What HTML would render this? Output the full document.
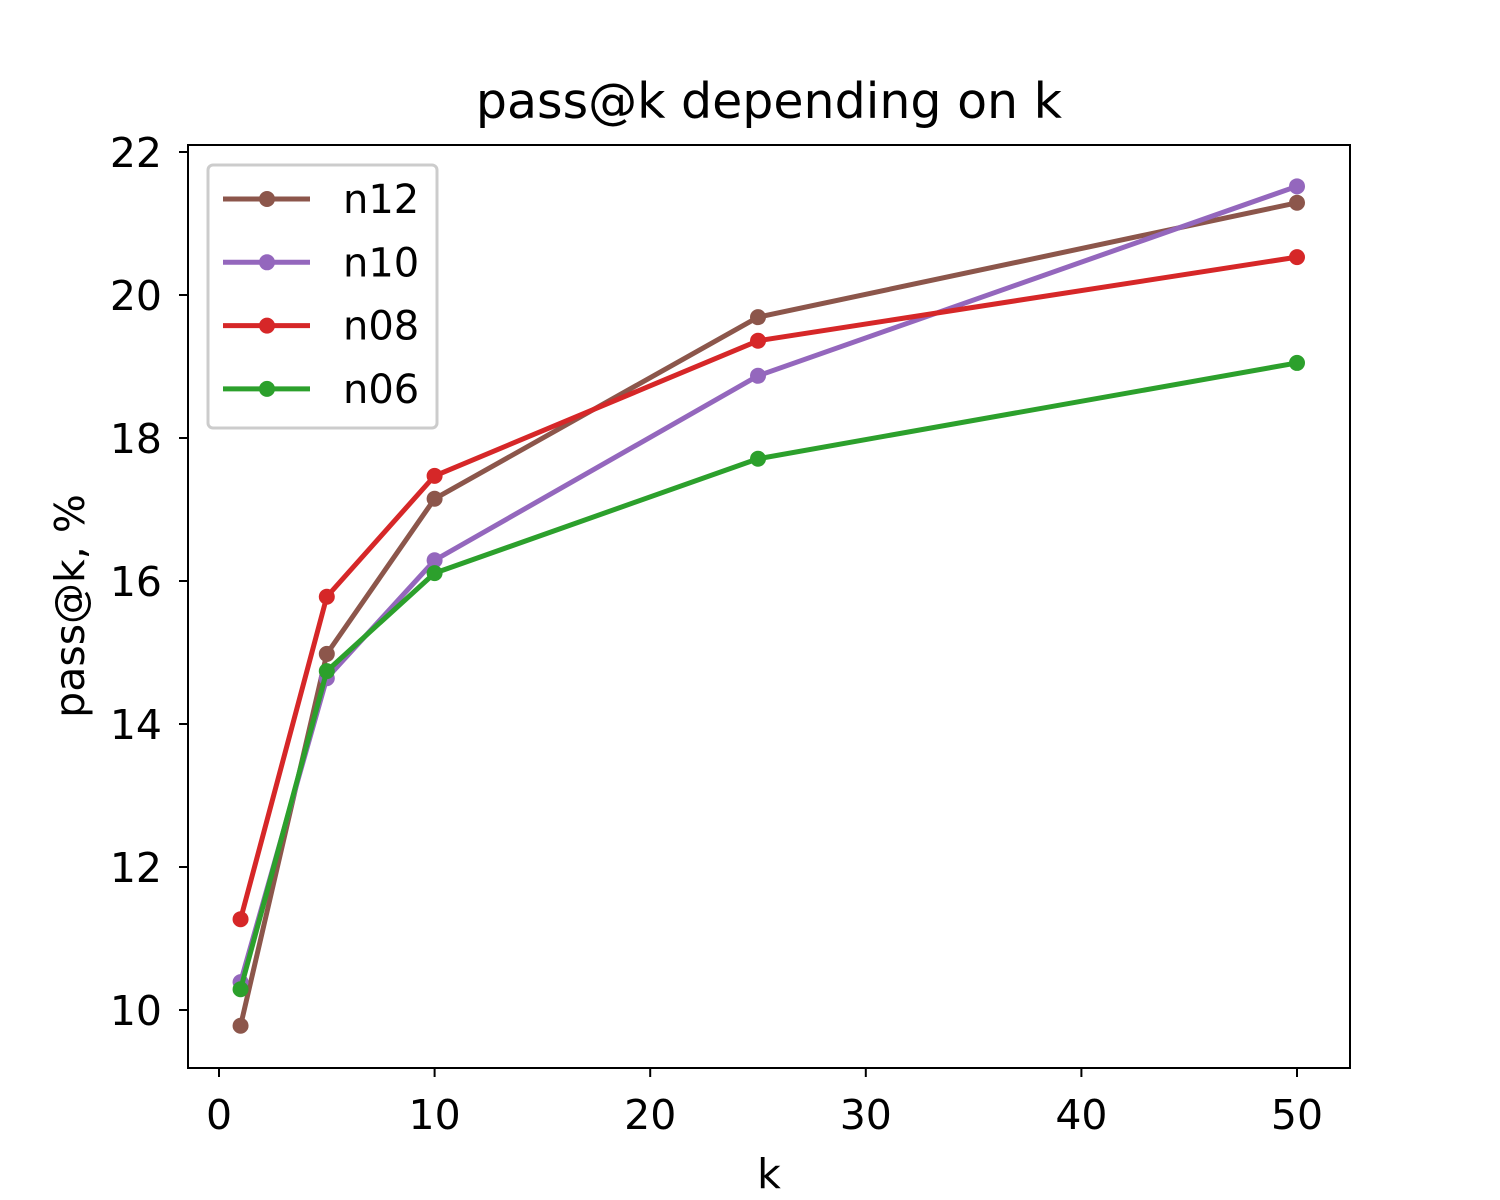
<!DOCTYPE html>
<html><head><meta charset="utf-8"><style>
body{margin:0;background:#fff;}
svg{display:block;font-family:"DejaVu Sans","Liberation Sans",sans-serif;}
</style></head><body>
<svg id="chart" width="1500" height="1200">
<rect width="1500" height="1200" fill="#fff"/>
<text x="769" y="118" font-size="49" text-anchor="middle">pass@k depending on k</text>
<text x="769" y="1188" font-size="41" text-anchor="middle">k</text>
<text transform="translate(84,606) rotate(-90)" font-size="41" text-anchor="middle">pass@k, %</text>
<g id="axes"></g>
<g id="series"></g>
<rect x="188" y="145" width="1162" height="923" fill="none" stroke="#000" stroke-width="2"/>
<g id="legend"></g>
</svg>
<script>
const kValues = [1, 5, 10, 25, 50];
const n12 = [9.78, 14.98, 17.15, 19.69, 21.29];
const n10 = [10.39, 14.64, 16.29, 18.87, 21.52];
const n08 = [11.27, 15.78, 17.47, 19.36, 20.53];
const n06 = [10.29, 14.74, 16.11, 17.71, 19.05];
const seriesNames = ["n12", "n10", "n08", "n06"];
const seriesColors = ["#8c564b", "#9467bd", "#d62728", "#2ca02c"];
const xTicks = [0, 10, 20, 30, 40, 50];
const yTicks = [10, 12, 14, 16, 18, 20, 22];

const NS = "http://www.w3.org/2000/svg";
function xs(v){ return 219 + v * 21.56; }
function ys(v){ return 1010 - (v - 10) * 71.5; }
function mk(tag, attrs, parent){ const e = document.createElementNS(NS, tag); for (const k in attrs) e.setAttribute(k, attrs[k]); parent.appendChild(e); return e; }

const axes = document.getElementById("axes");
xTicks.forEach(t => {
  const l = mk("line", {x1: xs(t), x2: xs(t), y1: 1068, y2: 1077, stroke: "#000", "stroke-width": 2}, axes);
  
  
  const tx = mk("text", {x: xs(t), y: 1129, "font-size": 41, "text-anchor": "middle"}, axes);
  tx.textContent = t;
  
  
});
yTicks.forEach(t => {
  const l = mk("line", {x1: 179, x2: 188, y1: ys(t), y2: ys(t), stroke: "#000", "stroke-width": 2}, axes);
  
  
  const tx = mk("text", {x: 162, y: ys(t) + 15, "font-size": 41, "text-anchor": "end"}, axes);
  tx.textContent = t;
  
  
});

const allSeries = [n12, n10, n08, n06];
const sg = document.getElementById("series");
allSeries.forEach((vals, i) => {
  const g = mk("g", {}, sg);
  
  
  const pts = vals.map((v, j) => xs(kValues[j]) + "," + ys(v)).join(" ");
  const pl = mk("polyline", {points: pts, fill: "none", stroke: seriesColors[i], "stroke-width": 5, "stroke-linejoin": "round"}, g);
  
  
  vals.forEach((v, j) => {
    const c = mk("circle", {cx: xs(kValues[j]), cy: ys(v), r: 8, fill: seriesColors[i]}, g);
    
    
  });
});

const lg = document.getElementById("legend");


mk("rect", {x: 208, y: 165, width: 229, height: 263, rx: 5, fill: "#fff", "fill-opacity": 0.8, stroke: "#ccc", "stroke-width": 3}, lg);
seriesNames.forEach((n, i) => {
  const y = 199 + i * 63.3;
  const g = mk("g", {}, lg);
  
  
  mk("line", {x1: 223, x2: 310, y1: y, y2: y, stroke: seriesColors[i], "stroke-width": 5}, g);
  mk("circle", {cx: 267, cy: y, r: 8, fill: seriesColors[i]}, g);
  const t = mk("text", {x: 343, y: y + 14, "font-size": 40}, g);
  t.textContent = n;
});
</script>
</body></html>
